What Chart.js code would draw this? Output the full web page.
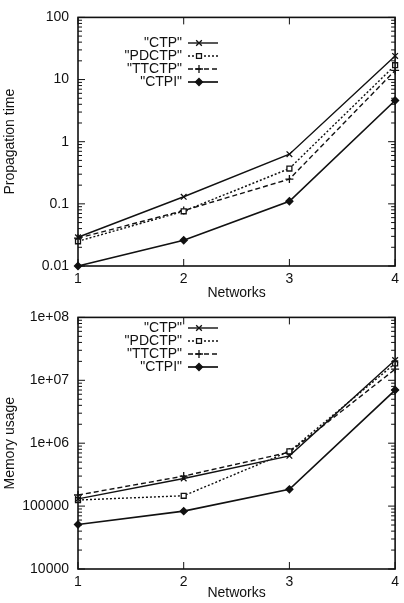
<!DOCTYPE html>
<html>
<head>
<meta charset="utf-8">
<script src="https://cdn.jsdelivr.net/npm/chart.js@4.4.0/dist/chart.umd.min.js"></script>
<style>
  html, body { margin: 0; padding: 0; background: #fff; }
  canvas { display: block; }
</style>
</head>
<body>
<canvas id="time-chart" width="404" height="300"></canvas>
<canvas id="mem-chart" width="404" height="303"></canvas>
<script>
// x axis categories
const networks = ['1', '2', '3', '4']
const seriesNames = ['"CTP"', '"PDCTP"', '"TTCTP"', '"CTPI"']

// top chart: propagation time
const timeCTP   = [0.029, 0.13, 0.63, 24]
const timePDCTP = [0.025, 0.076, 0.37, 17]
const timeTTCTP = [0.028, 0.078, 0.25, 14]
const timeCTPI  = [0.01, 0.026, 0.11, 4.6]
const timeTicks = [0.01, 0.1, 1, 10, 100]
const timeTickLabels = ['0.01', '0.1', '1', '10', '100']

// bottom chart: memory usage
const memCTP   = [130000, 275000, 630000, 21000000]
const memPDCTP = [125000, 146000, 740000, 18500000]
const memTTCTP = [150000, 300000, 720000, 15000000]
const memCTPI  = [51000, 83000, 185000, 7000000]
const memTicks = [10000, 100000, 1000000, 10000000, 100000000]
const memTickLabels = ['10000', '100000', '1e+06', '1e+07', '1e+08']

const ink = '#111'
Chart.defaults.font.family = '"Liberation Sans", Arial, sans-serif'
Chart.defaults.font.size = 14
Chart.defaults.color = ink

// line style for each series (CTP, PDCTP, TTCTP, CTPI)
const styles = [
  { pointStyle: 'crossRot', dash: [], width: 1.4, radius: 4, fill: ink },
  { pointStyle: 'rect', dash: [2, 2], width: 1.4, radius: 3.5, fill: '#fff' },
  { pointStyle: 'cross', dash: [5, 3], width: 1.4, radius: 4, fill: ink },
  { pointStyle: 'rectRot', dash: [], width: 1.7, radius: 3.5, fill: ink }
]

function makeDatasets(series) {
  return series.map(function (values, i) {
    const s = styles[i]
    return {
      label: seriesNames[i],
      data: values,
      borderColor: ink,
      borderWidth: s.width,
      borderDash: s.dash,
      pointStyle: s.pointStyle,
      pointRadius: s.radius,
      pointBorderWidth: 1.3,
      pointBorderColor: ink,
      pointBackgroundColor: s.fill,
      tension: 0,
      clip: false
    }
  })
}

// gnuplot style frame with inward ticks, plus the legend inside the plot
const framePlugin = {
  id: 'frame',
  afterDatasetsDraw(chart, args, opts) {
    const ctx = chart.ctx
    const a = chart.chartArea
    const y = chart.scales.y
    const x = chart.scales.x
    ctx.save()
    ctx.strokeStyle = ink
    ctx.lineWidth = 1.6
    ctx.setLineDash([])
    ctx.strokeRect(a.left, a.top, a.right - a.left, a.bottom - a.top)
    ctx.lineWidth = 1
    ctx.beginPath()
    const e0 = Math.round(Math.log10(y.min))
    const e1 = Math.round(Math.log10(y.max))
    for (let e = e0; e <= e1; e++) {
      for (let k = 1; k <= 9; k++) {
        const v = k * Math.pow(10, e)
        if (v > y.max * 1.0001) break
        const py = y.getPixelForValue(v)
        const len = k === 1 ? 7 : 4
        ctx.moveTo(a.left, py); ctx.lineTo(a.left + len, py)
        ctx.moveTo(a.right, py); ctx.lineTo(a.right - len, py)
      }
    }
    x.ticks.forEach(function (t, i) {
      const px = x.getPixelForTick(i)
      ctx.moveTo(px, a.bottom); ctx.lineTo(px, a.bottom - 7)
      ctx.moveTo(px, a.top); ctx.lineTo(px, a.top + 7)
    })
    ctx.stroke()

    // legend
    ctx.font = '14px "Liberation Sans", Arial, sans-serif'
    ctx.textAlign = 'right'
    ctx.textBaseline = 'middle'
    chart.data.datasets.forEach(function (ds, i) {
      const ry = opts.top + i * opts.gap
      ctx.fillStyle = ink
      ctx.fillText(ds.label, opts.textRight, ry)
      ctx.lineWidth = ds.borderWidth
      ctx.setLineDash(ds.borderDash)
      ctx.beginPath()
      ctx.moveTo(opts.lineFrom, ry)
      ctx.lineTo(opts.lineTo, ry)
      ctx.stroke()
      ctx.setLineDash([])
      ctx.lineWidth = 1.3
      ctx.fillStyle = ds.pointBackgroundColor
      Chart.helpers.drawPoint(ctx, {
        pointStyle: ds.pointStyle, radius: ds.pointRadius, rotation: 0, borderWidth: 1.3
      }, opts.lineFrom + 11, ry)
    })
    ctx.restore()
  }
}

function makeChart(canvasId, series, yTitle, tickValues, tickLabels, titleBottom, legendTop) {
  return new Chart(document.querySelector(canvasId), {
    type: 'line',
    data: { labels: networks, datasets: makeDatasets(series) },
    plugins: [framePlugin],
    options: {
      responsive: false,
      animation: false,
      layout: { padding: { top: 8, right: 6, left: 0, bottom: 0 } },
      plugins: {
        legend: { display: false },
        tooltip: { enabled: false },
        frame: { top: legendTop, gap: 13, textRight: 182, lineFrom: 188, lineTo: 218 }
      },
      scales: {
        x: {
          type: 'category',
          offset: false,
          grid: { display: false, drawTicks: false },
          border: { display: false },
          ticks: { padding: 5, color: ink },
          title: {
            display: true, text: 'Networks', color: ink,
            font: { size: 14, lineHeight: 1 },
            padding: { top: 0, bottom: titleBottom }
          },
          afterFit(scale) { scale.height = 34 }
        },
        y: {
          type: 'logarithmic',
          min: tickValues[0],
          max: tickValues[tickValues.length - 1],
          grid: { display: false, drawTicks: false },
          border: { display: false },
          afterBuildTicks(scale) {
            scale.ticks = tickValues.map(function (v) { return { value: v } })
          },
          ticks: {
            padding: 9,
            color: ink,
            autoSkip: false,
            callback: function (value, index) { return tickLabels[index] }
          },
          title: {
            display: true, text: yTitle, color: ink,
            font: { size: 14, lineHeight: 1 },
            padding: { top: 3, bottom: 0 }
          },
          afterFit(scale) { scale.width = 78 }
        }
      }
    }
  })
}

makeChart('#time-chart', [timeCTP, timePDCTP, timeTTCTP, timeCTPI],
  'Propagation time', timeTicks, timeTickLabels, 0, 43)
makeChart('#mem-chart', [memCTP, memPDCTP, memTTCTP, memCTPI],
  'Memory usage', memTicks, memTickLabels, 3, 28)
</script>
</body>
</html>
